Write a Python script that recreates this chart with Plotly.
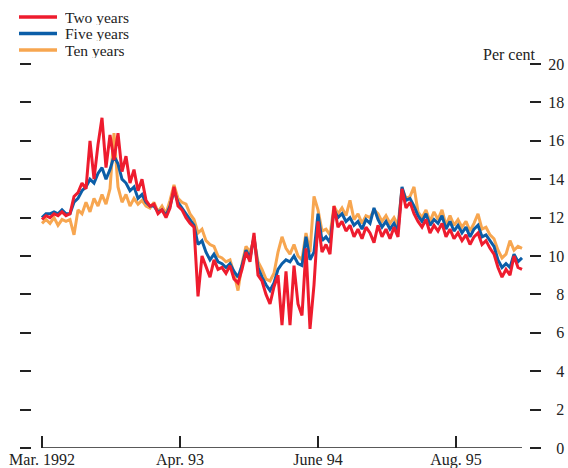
import plotly.graph_objects as go

# observation index (trading days from March 1992), one point every 8 days
obs = list(range(0, 968, 8))

two_years = [
    11.9, 12.1, 12.0, 12.2, 12.1, 12.3, 12.1, 12.2, 13.1, 13.3,
    13.8, 13.5, 16.0, 14.0, 15.8, 17.2, 14.6, 16.3, 15.0, 16.4,
    14.4, 15.2, 13.8, 14.5, 13.4, 14.0, 12.9, 12.6, 12.7, 12.2,
    12.4, 12.0, 12.5, 13.6, 12.6, 12.4, 12.0, 11.7, 11.5, 7.9,
    10.0, 9.5, 8.9, 9.8, 9.3, 9.4, 9.1, 9.5, 8.8, 8.6,
    9.3, 10.2, 9.7, 11.2, 9.0, 8.7, 8.0, 7.5, 8.4, 9.0,
    6.4, 9.2, 6.4, 9.5, 7.5, 6.9, 10.4, 6.2, 8.5, 11.8,
    10.2, 10.6, 10.1, 12.6, 11.5, 11.8, 11.3, 11.6, 11.0, 11.4,
    10.9, 11.5, 11.2, 10.7, 11.6, 11.0, 11.4, 10.9, 11.5, 11.0,
    13.5, 12.5, 12.8, 12.2, 11.8, 11.5, 11.9, 11.2, 11.6, 11.3,
    11.7, 11.0, 11.4, 10.9, 11.2, 10.8, 11.1, 10.6, 11.0, 11.2,
    10.6, 10.8, 10.4, 10.1, 9.4, 8.9, 9.3, 9.0, 10.0, 9.4,
    9.3,
]

five_years = [
    12.0, 12.2, 12.2, 12.3, 12.2, 12.4, 12.2, 12.2, 12.8, 13.0,
    13.4, 13.6, 14.0, 13.8, 14.3, 14.6, 14.0, 14.5, 15.2, 14.8,
    14.0, 13.8, 13.4, 13.6, 13.0, 13.2, 12.8, 12.6, 12.6, 12.3,
    12.4, 12.1, 12.6, 13.4, 12.8, 12.5, 12.2, 11.9, 11.6, 10.6,
    10.8, 10.2, 9.8, 10.1, 9.7, 9.6, 9.4, 9.6, 9.2, 8.9,
    9.5, 10.3, 9.9, 11.0, 9.4, 8.9, 8.5, 8.2, 8.6, 9.3,
    9.6, 9.8, 9.7, 10.0, 9.6, 9.5, 11.0, 9.8, 10.2, 12.2,
    10.8, 11.0, 10.7, 12.4, 12.0, 12.2, 11.8, 12.0, 11.6, 11.8,
    11.4, 11.9, 11.7, 12.5, 11.9, 11.5, 11.8, 11.4, 11.7, 11.3,
    13.6, 12.9, 13.0, 12.6, 12.1, 11.8, 12.2, 11.6, 11.9, 11.7,
    12.1, 11.4, 11.8, 11.3, 11.6, 11.2, 11.5, 11.0, 11.4, 11.6,
    11.0, 11.1, 10.8, 10.5, 9.8, 9.4, 9.6, 9.4, 10.1, 9.7,
    9.9,
]

ten_years = [
    11.7, 11.9, 11.7, 12.0, 11.6, 11.9, 11.8, 11.9, 11.1, 12.4,
    12.2, 12.8, 12.3, 13.0, 12.6, 13.2, 12.7, 13.5, 16.4, 13.6,
    12.8, 13.2, 12.6, 13.0, 12.7, 12.9, 12.6, 12.5, 12.8, 12.3,
    12.6, 12.2, 12.9, 13.7, 13.0, 12.8, 12.7, 12.2, 11.9, 11.2,
    11.4, 10.8, 10.6, 10.5, 10.0, 9.9, 9.7, 9.8, 9.1, 8.2,
    9.6, 10.5, 10.2, 10.9, 9.7, 9.3, 8.8, 8.7, 9.1, 10.2,
    11.0, 10.4, 10.1, 10.6, 10.0, 9.8, 11.2, 10.2, 13.1, 12.4,
    11.3, 11.4, 11.1, 12.6, 12.2, 12.5, 12.1, 12.9, 11.9, 12.2,
    11.7, 12.1, 12.0, 12.4, 12.2, 11.8, 12.1, 11.7, 12.0, 11.6,
    13.5, 13.0, 13.1, 13.6, 12.3, 12.0, 12.4, 11.8, 12.3, 11.9,
    12.4, 11.6, 12.1, 11.6, 11.9, 11.5, 11.8, 11.3, 11.7, 12.2,
    11.4, 11.5, 11.1, 10.9, 10.3, 9.9, 10.1, 10.8, 10.3, 10.5,
    10.4,
]

series_names = ["Two years", "Five years", "Ten years"]
series_colors = ["#EE1C2E", "#0B5EA8", "#F7A650"]
series_values = [two_years, five_years, ten_years]

x_tick_vals = [0, 276, 552, 828]
x_tick_text = ["Mar. 1992", "Apr. 93", "June 94", "Aug. 95"]
y_tick_vals = list(range(0, 21, 2))
y_tick_text = [("\u2007" + str(v)) if v < 10 else str(v) for v in y_tick_vals]

FONT = "Liberation Serif"
TXT = "#222222"

fig = go.Figure()
# draw ten, five, then two so red sits on top
for name, color, vals in reversed(list(zip(series_names, series_colors, series_values))):
    fig.add_trace(go.Scatter(x=obs, y=vals, mode="lines", name=name,
                             line=dict(color=color, width=3),
                             showlegend=False, hoverinfo="skip"))

# baseline under the data span
fig.add_shape(type="line", xref="x", yref="y", x0=obs[0], x1=obs[-1], y0=0, y1=0,
              line=dict(color=TXT, width=1.5))

# manual legend (compact spacing as in the reference)
L, T, W, H = 32, 64, 497, 384
def px_x(p):
    return (p - L) / W
def px_y(p):
    return (T + H - p) / H

for i, (name, color) in enumerate(zip(series_names, series_colors)):
    yc = 17 + 16.5 * i
    fig.add_shape(type="line", xref="paper", yref="paper",
                  x0=px_x(19), x1=px_x(57), y0=px_y(yc), y1=px_y(yc),
                  line=dict(color=color, width=3.5))
    fig.add_annotation(x=px_x(64), y=px_y(yc), xref="paper", yref="paper",
                       text=name, showarrow=False, xanchor="left", yanchor="middle",
                       height=15, borderpad=0,
                       font=dict(family=FONT, size=15.5, color=TXT))

fig.add_annotation(x=px_x(537), y=px_y(54), xref="paper", yref="paper",
                   text="Per cent", showarrow=False, xanchor="right", yanchor="middle",
                   height=16, borderpad=0,
                   font=dict(family=FONT, size=16, color=TXT))

fig.update_layout(
    width=568, height=468,
    margin=dict(l=L, r=568 - L - W, t=T, b=468 - T - H),
    paper_bgcolor="white", plot_bgcolor="white",
    font=dict(family=FONT, size=16, color=TXT),
    xaxis=dict(range=[-20, 974], tickmode="array", tickvals=x_tick_vals,
               ticktext=x_tick_text, ticks="inside", ticklen=12, tickwidth=1.5,
               tickcolor=TXT, showgrid=False, zeroline=False, showline=False,
               automargin=False, fixedrange=True,
               tickfont=dict(family=FONT, size=16, color=TXT)),
    yaxis=dict(range=[0, 20], side="right", tickmode="array", tickvals=y_tick_vals,
               ticktext=y_tick_text, ticks="outside", ticklen=11, tickwidth=1.5,
               tickcolor=TXT, mirror="ticks", showgrid=False, zeroline=False,
               showline=True, linecolor="rgba(0,0,0,0)", linewidth=1,
               automargin=False, fixedrange=True, ticklabelstandoff=4,
               tickfont=dict(family=FONT, size=16, color=TXT)),
)

fig.write_html("out.html", config={"displayModeBar": False},
               post_script="document.body.style.margin='0';document.body.style.overflow='hidden';")
